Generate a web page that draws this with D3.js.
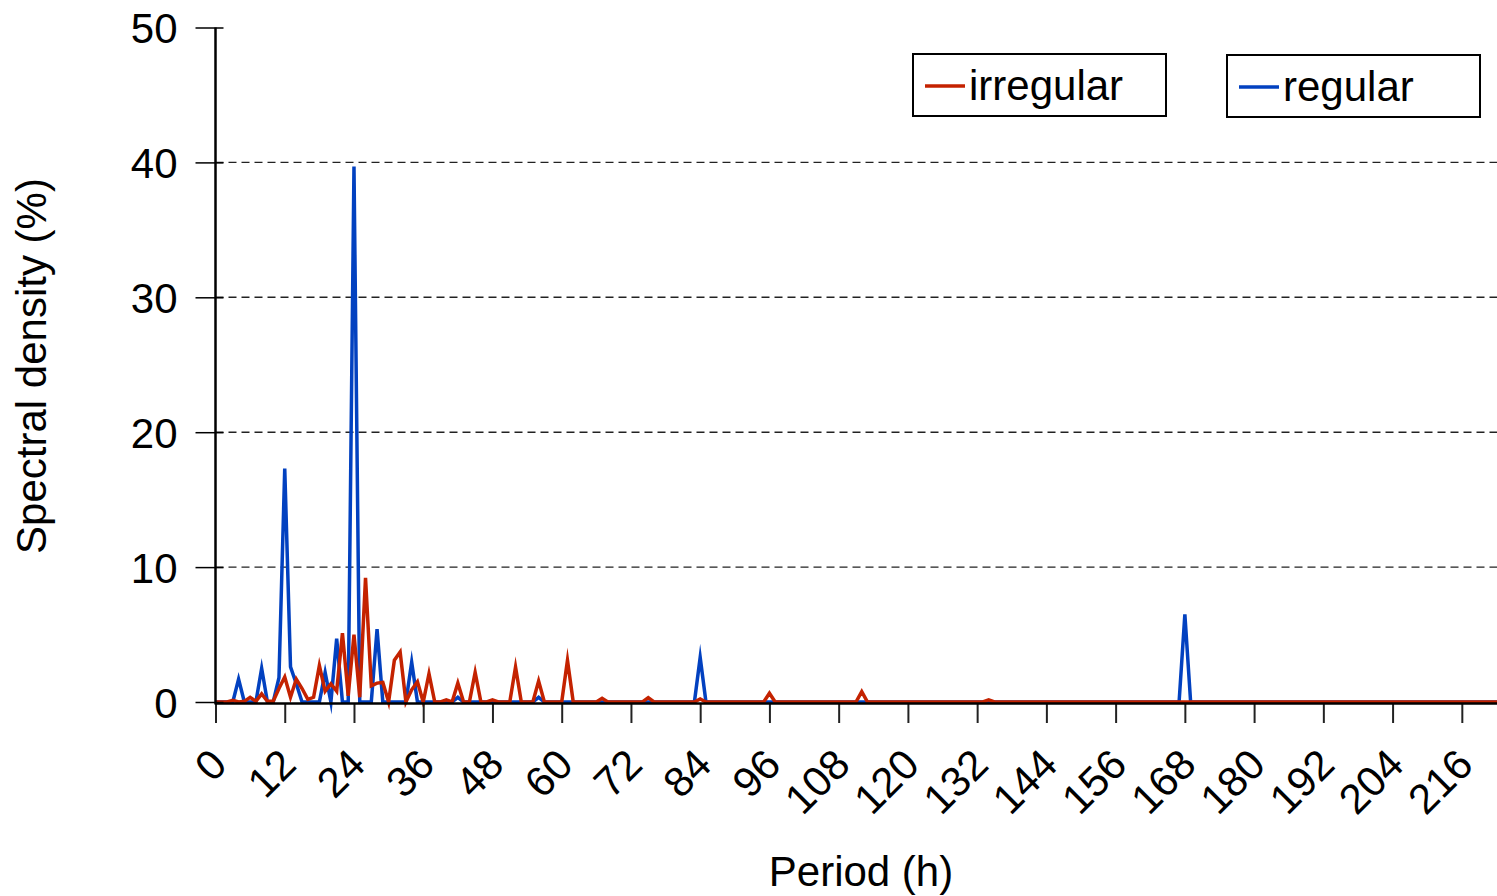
<!DOCTYPE html>
<html>
<head>
<meta charset="utf-8">
<script src="https://cdn.jsdelivr.net/npm/d3@7"></script>
<style>
  body { margin: 0; background: #fff; }
  svg { display: block; font-family: "Liberation Sans", Arial, Helvetica, sans-serif; }
</style>
</head>
<body>
<div id="container"></div>
<script>
/* DATA (period in hours, spectral density in %) */
const regularPeriods = [0, 3, 4, 5, 7, 8, 9, 10, 11, 12,
  13, 14, 15, 18, 19, 20, 21, 22, 23, 24,
  25, 27, 28, 29, 33, 34, 35, 41, 42, 43,
  55, 56, 57, 83, 84, 85, 167, 168, 169, 225];
const regularValues = [0, 0, 1.7, 0, 0, 2.5, 0, 0, 1.8, 17.3,
  2.6, 1.35, 0, 0, 2.2, 0, 4.7, 0, 0, 39.7,
  0, 0, 5.4, 0, 0, 2.95, 0, 0, 0.35, 0,
  0, 0.35, 0, 0, 3.3, 0, 0, 6.5, 0, 0];

const irregularPeriods = [0, 2, 3, 4, 5, 6, 7, 8, 9, 10,
  11, 12, 13, 14, 15, 16, 17, 18, 19, 20,
  21, 22, 23, 24, 25, 26, 27, 28, 29, 30,
  31, 32, 33, 34, 35, 36, 37, 38, 39, 40,
  41, 42, 43, 44, 45, 46, 47, 48, 49, 51,
  52, 53, 55, 56, 57, 60, 61, 62, 66, 67,
  68, 74, 75, 76, 83, 84, 85, 95, 96, 97,
  111, 112, 113, 133, 134, 135, 225];
const irregularValues = [0, 0, 0.12, 0, 0.05, 0.35, 0.05, 0.6, 0.05, 0.05,
  1.0, 1.85, 0.35, 1.7, 1.0, 0.2, 0.35, 2.7, 0.8, 1.35,
  0.8, 5.1, 0.45, 5.0, 0.35, 9.2, 1.2, 1.4, 1.45, 0,
  3.1, 3.7, 0, 0.9, 1.5, 0, 2.1, 0, 0, 0.16,
  0, 1.4, 0, 0, 2.2, 0, 0, 0.16, 0, 0,
  2.6, 0, 0, 1.55, 0, 0, 3.1, 0, 0, 0.28,
  0, 0, 0.32, 0, 0, 0.22, 0, 0, 0.65, 0,
  0, 0.77, 0, 0, 0.16, 0, 0];

const xTicks = [0, 12, 24, 36, 48, 60, 72, 84, 96, 108, 120, 132, 144, 156, 168, 180, 192, 204, 216];
const yTicks = [0, 10, 20, 30, 40, 50];
const seriesNames = ["irregular", "regular"];
const seriesColors = ["#c42200", "#0241c0"];

/* CONSTANTS AND GLOBALS */
const width = 1497,
      height = 896,
      fontSize = 42,
      plotLeft = 215.5,
      plotTop = 27.5,
      plotBottom = 702,
      hourPx = 5.77,
      xMax = 225;

const xScale = d3.scaleLinear()
  .domain([0, xMax])
  .range([plotLeft, plotLeft + xMax * hourPx]);

const yScale = d3.scaleLinear()
  .domain([0, 50])
  .range([plotBottom, plotTop]);

const svg = d3.select("#container")
  .append("svg")
  .attr("width", width)
  .attr("height", height);

// dashed grid
svg.append("g")
  .selectAll("line")
  .data(yTicks.filter(d => d > 0 && d < 50))
  .join("line")
    .attr("x1", plotLeft)
    .attr("x2", width)
    .attr("y1", d => yScale(d))
    .attr("y2", d => yScale(d))
    .attr("stroke", "#222")
    .attr("stroke-width", 1.4)
    .attr("stroke-dasharray", "8,5");

// + LINES (regular under, irregular on top)
const line = d3.line()
  .x(d => xScale(d[0]))
  .y(d => yScale(d[1]));

const series = [
  { name: "regular", points: d3.zip(regularPeriods, regularValues), color: seriesColors[1] },
  { name: "irregular", points: d3.zip(irregularPeriods, irregularValues), color: seriesColors[0] }
];

svg.append("g")
  .selectAll("path")
  .data(series)
  .join("path")
    .attr("d", d => line(d.points))
    .attr("fill", "none")
    .attr("stroke", d => d.color)
    .attr("stroke-width", 3.5)
    .attr("stroke-linejoin", "miter")
    .attr("stroke-miterlimit", 10);

// + AXES
const yAxis = d3.axisLeft(yScale)
  .tickValues(yTicks)
  .tickSize(20)
  .tickPadding(18);

const gy = svg.append("g")
  .attr("transform", `translate(${plotLeft}, 0)`)
  .call(yAxis);
gy.select(".domain").remove();
gy.selectAll(".tick line").attr("x1", 8).attr("stroke", "#000").attr("stroke-width", 1.5);
gy.selectAll(".tick text")
  .attr("font-size", fontSize)
  .attr("font-family", "Liberation Sans, Arial, sans-serif")
  .attr("fill", "#000")
  .attr("dy", "0.36em");

const xAxis = d3.axisBottom(xScale)
  .tickValues(xTicks)
  .tickSize(20);

const gx = svg.append("g")
  .attr("transform", `translate(0, ${plotBottom + 1})`)
  .call(xAxis);
gx.select(".domain").remove();
gx.selectAll(".tick line").attr("stroke", "#222").attr("stroke-width", 2);
gx.selectAll(".tick text")
  .attr("font-size", fontSize)
  .attr("font-family", "Liberation Sans, Arial, sans-serif")
  .attr("fill", "#000")
  .attr("y", 0)
  .attr("dy", 0)
  .attr("text-anchor", "end")
  .attr("transform", "translate(13, 64) rotate(-45)");

// axis lines drawn over the series
svg.append("line")
  .attr("x1", plotLeft).attr("x2", width)
  .attr("y1", plotBottom + 1.5).attr("y2", plotBottom + 1.5)
  .attr("stroke", "#000").attr("stroke-width", 2.5);
svg.append("line")
  .attr("x1", plotLeft).attr("x2", plotLeft)
  .attr("y1", plotTop).attr("y2", plotBottom + 2.5)
  .attr("stroke", "#000").attr("stroke-width", 2.5);

// + TITLES
svg.append("text")
  .attr("x", 861)
  .attr("y", 886)
  .attr("text-anchor", "middle")
  .attr("font-size", fontSize)
  .text("Period (h)");

svg.append("text")
  .attr("transform", "translate(46, 366) rotate(-90)")
  .attr("text-anchor", "middle")
  .attr("font-size", fontSize)
  .text("Spectral density (%)");

// + LEGEND (two separate boxes)
const legendBoxes = [
  { x: 913, y: 54 },
  { x: 1227, y: 55 }
];

const legend = svg.append("g")
  .selectAll("g")
  .data(seriesNames)
  .join("g")
    .attr("transform", (d, i) => `translate(${legendBoxes[i].x}, ${legendBoxes[i].y})`);

legend.append("rect")
  .attr("width", 253)
  .attr("height", 62)
  .attr("fill", "#fff")
  .attr("stroke", "#000")
  .attr("stroke-width", 2);

legend.append("line")
  .attr("x1", 12).attr("x2", 52)
  .attr("y1", 32).attr("y2", 32)
  .attr("stroke", (d, i) => seriesColors[i])
  .attr("stroke-width", 3.5);

legend.append("text")
  .attr("x", 56)
  .attr("y", 46)
  .attr("font-size", fontSize)
  .text(d => d);
</script>
</body>
</html>
